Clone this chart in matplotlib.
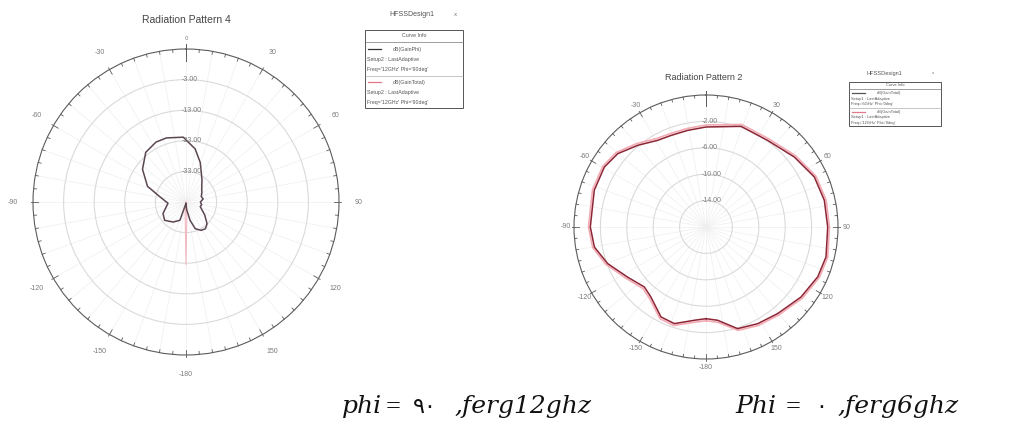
import matplotlib

matplotlib.use("Agg")

import matplotlib.pyplot as plt
import numpy as np
from matplotlib.patches import Rectangle

W, H = 1030, 423

# left pattern: dB(GainPhi), phi = 90, 12 GHz
LEFT_ANGLES = [-180, -166, -161.6, -147, -130.6, -116.6, -94, -78, -67.8, -53, -39, -26.6, -17, -2.4,
               9.8, 19.9, 35.5, 50, 60, 70, 80, 90, 100, 108, 125, 136, 144, 152, 161, 167.5, 175, 180]
LEFT_GAIN = [-42.5, -41.5, -36.7, -35.2, -33.8, -34.6, -37.1, -34.1, -29.4, -25.2, -22.1, -21.1, -21.1, -21.8,
             -25.4, -29.3, -34.0, -36.3, -37.0, -37.7, -37.3, -38.3, -37.8, -38.1, -35.5, -33.1, -32.2, -32.5,
             -33.8, -36.9, -40.5, -42.5]
# faint dB(GainTotal) trace in the left pattern
LEFT_TOTAL_ANGLES = [170, 176, 180, 184, 190]
LEFT_TOTAL_GAIN = [-43.0, -39.0, -22.5, -39.0, -43.0]

# right pattern: dB(GainTotal), phi = 0, 6 GHz
RIGHT_ANGLES = [-180, -172.9, -161.9, -153.4, -141.8, -134.2, -122.6, -110.4, -100.2, -90, -71.8, -59.5,
                -50.3, -39.9, -29.1, -20.9, -10.7, 0, 19.2, 35.4, 51.6, 65.2, 77.3, 90, 104, 114, 126.4,
                140.4, 151.9, 162.7, 172.9, 180]
RIGHT_GAIN = [-4.11, -3.76, -2.6, -2.76, -4.5, -4.97, -3.9, -2.1, -0.82, -0.47, -0.18, -0.12,
              -0.61, -1.87, -2.97, -3.15, -3.1, -2.85, -1.85, -1.9, -0.93, 0.08, 0.38, 0.44, 0.74, 0.54,
              -0.12, -0.97, -1.39, -1.87, -3.76, -4.11]
RIGHT_GAIN_2 = [-3.8, -3.45, -2.3, -2.45, -4.2, -4.65, -3.6, -1.8, -0.55, -0.2, 0.1, 0.15,
                -0.32, -1.55, -2.65, -2.85, -2.8, -2.55, -1.55, -1.6, -0.65, 0.35, 0.65, 0.7, 1.0, 0.8,
                0.15, -0.7, -1.1, -1.6, -3.45, -3.8]

LEFT_RINGS = [-33, -23, -13, -3]
RIGHT_RINGS = [-14, -10, -6, -2]
ANGLE_LABELS = [-30, 30, -60, 60, -90, 90, -120, 120, -150, 150, -180]

GRID = "#dadada"
SPOKE = "#efefef"
EDGE = "#5c5c5c"
LABEL = "#7a7a7a"


def px(x, y):
    return x / W, 1 - y / H


def polar_axes(fig, cx, cy, radius):
    left, top = px(cx - radius, cy - radius)
    ax = fig.add_axes([left, top - 2 * radius / H, 2 * radius / W, 2 * radius / H], projection="polar")
    ax.set_theta_zero_location("N")
    ax.set_theta_direction(-1)
    return ax


def style_pattern(ax, rmin, rmax, rings, label_r):
    ax.set_rlim(rmin, rmax)
    ax.set_yticks(rings)
    ax.set_yticklabels([])
    ax.set_xticks(np.deg2rad(np.arange(0, 360, 10)))
    ax.set_xticklabels([])
    ax.yaxis.grid(True, color=GRID, linewidth=0.8)
    ax.xaxis.grid(True, color=SPOKE, linewidth=0.5)
    ax.spines["polar"].set_color(EDGE)
    ax.spines["polar"].set_linewidth(0.8)
    ax.tick_params(length=0)

    span = rmax - rmin
    for a in range(0, 360, 5):
        t = np.deg2rad(a)
        if a % 30 == 0:
            r0, r1 = rmax - 0.035 * span, rmax + 0.012 * span
        else:
            r0, r1 = rmax - 0.02 * span, rmax
        ax.plot([t, t], [r0, r1], color=EDGE, linewidth=0.6, clip_on=False)
    ax.plot([0, 0], [rmax - 0.08 * span, rmax + 0.03 * span], color=EDGE, linewidth=0.7, clip_on=False)

    for v in rings:
        ax.annotate(f"{v:.2f}", xy=(0, v), xytext=(-3, 0), textcoords="offset points",
                    ha="left", va="center", fontsize=5, color=LABEL, family="Liberation Sans")
    for a in ANGLE_LABELS:
        ax.text(np.deg2rad(a), label_r, str(a), ha="center", va="center", fontsize=5,
                color=LABEL, family="Liberation Sans", clip_on=False)


def legend_box(fig, x0, y0, x1, y1, title_xy, entries, fs):
    tx, ty = title_xy
    fig.text(*px(tx, ty), "HFSSDesign1", fontsize=fs + 1.2, color="#555555", ha="center", va="center",
             family="Liberation Sans")
    fig.text(*px(x1 - 8, ty - 1), "x", fontsize=fs, color="#777777", ha="center", va="center")
    bx, by = px(x0, y1)
    fig.patches.append(Rectangle((bx, by), (x1 - x0) / W, (y1 - y0) / H, transform=fig.transFigure,
                                 facecolor="white", edgecolor="#555555", linewidth=0.7))
    head = (y1 - y0) * 0.15
    fig.text(*px((x0 + x1) / 2, y0 + head / 2), "Curve Info", fontsize=fs, color="#555555", ha="center",
             va="center", family="Liberation Sans")
    fig.lines.append(plt.Line2D([x0 / W, x1 / W], [1 - (y0 + head) / H] * 2, transform=fig.transFigure,
                                color="#777777", linewidth=0.5))
    step = (y1 - y0 - head) / 6.6
    y = y0 + head + step * 0.75
    for i, (name, color, setup, freq) in enumerate(entries):
        if i:
            fig.lines.append(plt.Line2D([x0 / W, x1 / W], [1 - (y - step * 0.6) / H] * 2,
                                        transform=fig.transFigure, color="#999999", linewidth=0.4))
        fig.lines.append(plt.Line2D([(x0 + 3) / W, (x0 + 16) / W], [1 - y / H] * 2,
                                    transform=fig.transFigure, color=color, linewidth=0.9))
        for j, line in enumerate([name, setup, freq]):
            xx = (x0 + 28) if j == 0 else (x0 + 2)
            fig.text(*px(xx, y + j * step), line, fontsize=fs, color="#555555", ha="left",
                     va="center", family="Liberation Sans")
        y += step * 3.3


fig = plt.figure(figsize=(W / 100, H / 100), dpi=100)

# left chart
ax1 = polar_axes(fig, 186, 202, 153)
style_pattern(ax1, -43, 7, LEFT_RINGS, 13.5)
ax1.plot(np.deg2rad(LEFT_TOTAL_ANGLES), LEFT_TOTAL_GAIN, color="#f2b8c0", linewidth=0.8)
ax1.plot(np.deg2rad(LEFT_ANGLES), LEFT_GAIN, color="#5b4652", linewidth=1.1)
ax1.text(np.deg2rad(0), 10.5, "0", ha="center", va="center", fontsize=4, color=LABEL, clip_on=False)
fig.text(*px(186, 20), "Radiation Pattern 4", fontsize=7.5, color="#444444", ha="center", va="center",
         family="Liberation Sans")

legend_box(fig, 365, 30, 463, 108, (412, 15), [
    ("dB(GainPhi)", "#333333", "Setup2 : LastAdaptive", "Freq='12GHz' Phi='90deg'"),
    ("dB(GainTotal)", "#e07a8a", "Setup2 : LastAdaptive", "Freq='12GHz' Phi='90deg'"),
], 3.8)

# right chart
ax2 = polar_axes(fig, 706, 227, 132)
style_pattern(ax2, -18, 2, RIGHT_RINGS, 3.3)
ax2.plot(np.deg2rad(RIGHT_ANGLES), RIGHT_GAIN_2, color="#f3aab3", linewidth=1.2)
ax2.plot(np.deg2rad(RIGHT_ANGLES), RIGHT_GAIN, color="#8c2636", linewidth=1.1)
fig.text(*px(704, 77), "Radiation Pattern 2", fontsize=6.5, color="#444444", ha="center", va="center",
         family="Liberation Sans")

legend_box(fig, 849, 82, 941, 126, (884, 74), [
    ("dB(GainTotal)", "#555555", "Setup1 : LastAdaptive", "Freq='6GHz' Phi='0deg'"),
    ("dB(GainTotal)", "#e07a8a", "Setup1 : LastAdaptive", "Freq='12GHz' Phi='0deg'"),
], 2.9)

# captions
cap = dict(fontsize=18, color="#111111", va="baseline", family=["DejaVu Serif", "DejaVu Sans"])
eq = dict(fontsize=19, color="#111111", va="baseline", family="Liberation Serif")
fig.text(*px(342, 413), "phi", style="italic", **cap)
fig.text(*px(386, 413), "=", **eq)
fig.text(*px(413, 413), "٩٠", fontsize=16, color="#111111", va="baseline", family="DejaVu Sans")
fig.text(*px(455, 413), ",ferg12ghz", style="italic", **cap)
fig.text(*px(735, 413), "Phi", style="italic", **cap)
fig.text(*px(786, 413), "=", **eq)
fig.text(*px(815, 413), "٠", fontsize=16, color="#111111", va="baseline", family="DejaVu Sans")
fig.text(*px(838, 413), ",ferg6ghz", style="italic", **cap)

fig.savefig("out.png", dpi=100)
